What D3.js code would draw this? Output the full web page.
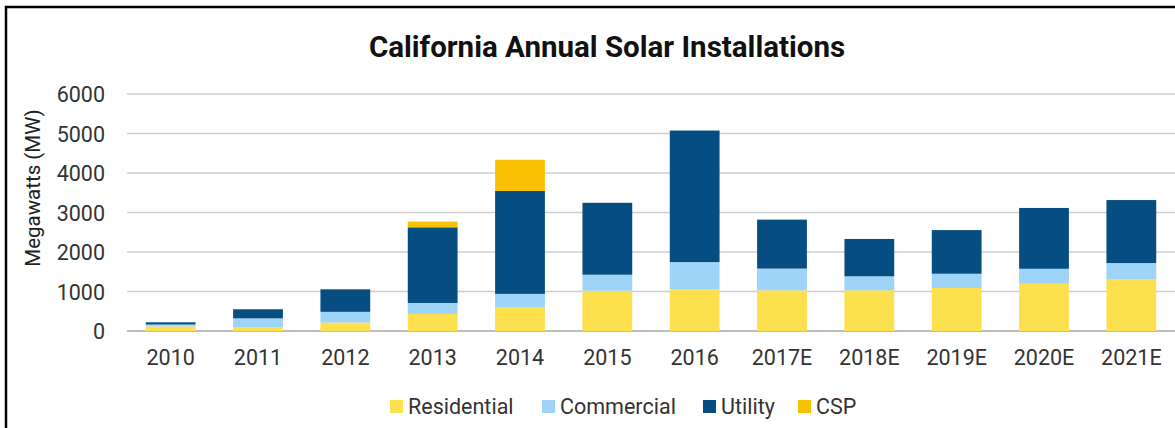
<!DOCTYPE html>
<html>
<head>
<meta charset="utf-8">
<script src="https://cdn.jsdelivr.net/npm/d3@7"></script>
<style>
  html, body { margin: 0; padding: 0; background: #fff; }
  svg { display: block; font-family: Roboto, "Noto Sans", sans-serif; }
</style>
</head>
<body>
<svg id="chart" width="1175" height="428"></svg>
<script>
// Annual installed capacity in California, MW, by segment
const years = ["2010", "2011", "2012", "2013", "2014", "2015", "2016", "2017E", "2018E", "2019E", "2020E", "2021E"];
const residential = [115, 100, 215, 430, 600, 1020, 1060, 1030, 1030, 1090, 1195, 1315];
const commercial  = [50, 220, 270, 280, 340, 405, 685, 550, 355, 360, 380, 405];
const utility     = [55, 230, 570, 1915, 2605, 1820, 3330, 1240, 945, 1105, 1540, 1595];
const csp         = [0, 0, 0, 145, 790, 0, 0, 0, 0, 0, 0, 0];
const yTicks = [0, 1000, 2000, 3000, 4000, 5000, 6000];

const seriesNames = ["Residential", "Commercial", "Utility", "CSP"];
const seriesColors = ["#fde04e", "#9dd4f7", "#064d82", "#f9c104"];

const rows = years.map((y, i) => ({
  year: y,
  Residential: residential[i],
  Commercial: commercial[i],
  Utility: utility[i],
  CSP: csp[i]
}));

const svg = d3.select("#chart");
const W = 1175, H = 428;

// frame
svg.append("rect")
  .attr("x", 6).attr("y", 7)
  .attr("width", W + 20).attr("height", H + 20)
  .attr("fill", "#fff").attr("stroke", "#000").attr("stroke-width", 2.5);

const x = d3.scaleBand().domain(years).range([127, 1175]).paddingInner(0.43).paddingOuter(0.215);
const y = d3.scaleLinear().domain([0, 6000]).range([331, 94]);

// gridlines
svg.append("g").selectAll("line").data(yTicks).join("line")
  .attr("x1", 127).attr("x2", 1175)
  .attr("y1", d => y(d)).attr("y2", d => y(d))
  .attr("stroke", d => d === 0 ? "#a8a8a8" : "#cfcfcf")
  .attr("stroke-width", 1.5);

// y axis labels
const yAxis = d3.axisLeft(y).tickValues(yTicks).tickSize(0).tickPadding(0).tickFormat(d3.format("d"));
const gy = svg.append("g").attr("transform", "translate(105,0)").call(yAxis);
gy.select(".domain").remove();
gy.selectAll("text").attr("font-size", 21.5).attr("fill", "#333").attr("font-family", "Roboto").attr("dy", "0.36em");

// x axis labels
const xAxis = d3.axisBottom(x).tickSize(0).tickPadding(0);
const gx = svg.append("g").attr("transform", "translate(0,350)").call(xAxis);
gx.select(".domain").remove();
gx.selectAll("text").attr("font-size", 21.5).attr("fill", "#333").attr("font-family", "Roboto").attr("dy", "0.71em");

// stacked bars
const stack = d3.stack().keys(seriesNames);
const layers = stack(rows);
svg.append("g").selectAll("g").data(layers).join("g")
  .attr("fill", (d, i) => seriesColors[i])
  .selectAll("rect").data(d => d).join("rect")
  .attr("x", d => x(d.data.year))
  .attr("width", x.bandwidth())
  .attr("y", d => y(d[1]))
  .attr("height", d => y(d[0]) - y(d[1]));

// title
svg.append("text")
  .attr("x", 607).attr("y", 57)
  .attr("text-anchor", "middle")
  .attr("font-size", 29.5).attr("font-weight", "bold").attr("fill", "#111")
  .text("California Annual Solar Installations");

// y axis title
svg.append("text")
  .attr("transform", "translate(40,188) rotate(-90)")
  .attr("text-anchor", "middle")
  .attr("font-size", 20.5).attr("fill", "#222")
  .text("Megawatts (MW)");

// legend
const legendX = [390, 542, 703, 798];
const lg = svg.append("g").selectAll("g").data(seriesNames).join("g")
  .attr("transform", (d, i) => `translate(${legendX[i]},400)`);
lg.append("rect").attr("width", 13).attr("height", 13).attr("fill", (d, i) => seriesColors[i]);
lg.append("text").attr("x", 18).attr("y", 13.5)
  .attr("font-size", 21.5).attr("fill", "#333")
  .text(d => d);
</script>
</body>
</html>
